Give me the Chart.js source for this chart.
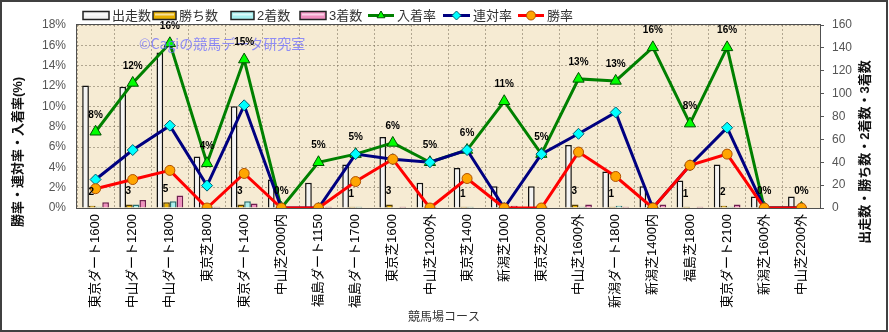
<!DOCTYPE html>
<html>
<head>
<meta charset="utf-8">
<script src="https://cdn.jsdelivr.net/npm/chart.js@4/dist/chart.umd.min.js"></script>
<style>
html, body { margin: 0; padding: 0; background: #fff; }
canvas { display: block; }
</style>
</head>
<body>
<canvas id="chart" width="889" height="332"></canvas>
<script>
// data
const courses = ['東京ダート1600', '中山ダート1200', '中山ダート1800', '東京芝1800', '東京ダート1400',
  '中山芝2000内', '福島ダート1150', '福島ダート1700', '東京芝1600', '中山芝1200外',
  '東京芝1400', '新潟芝1000', '東京芝2000', '中山芝1600外', '新潟ダート1800',
  '新潟芝1400内', '福島芝1800', '東京ダート2100', '新潟芝1600外', '中山芝2200外'];
const starts  = [107, 106, 136, 45, 89, 25, 22, 38, 62, 22, 35, 19, 19, 55, 32, 19, 24, 38, 10, 10];
const wins    = [2, 3, 5, 0, 3, 0, 0, 1, 3, 0, 1, 0, 0, 3, 1, 0, 1, 2, 0, 0];
const seconds = [1, 3, 6, 1, 6, 0, 0, 1, 0, 1, 1, 0, 1, 1, 2, 0, 0, 1, 0, 0];
const thirds  = [5, 7, 11, 1, 4, 0, 1, 0, 1, 0, 0, 2, 0, 3, 1, 3, 1, 3, 0, 0];
const winRate    = [1.9, 2.8, 3.7, 0, 3.4, 0, 0, 2.6, 4.8, 0, 2.9, 0, 0, 5.5, 3.1, 0, 4.2, 5.3, 0, 0];
const rentaiRate = [2.8, 5.7, 8.1, 2.2, 10.1, 0, 0, 5.3, 4.8, 4.5, 5.7, 0, 5.3, 7.3, 9.4, 0, 4.2, 7.9, 0, 0];
const placeRate  = [7.5, 12.3, 16.2, 4.4, 14.6, 0, 4.5, 5.3, 6.4, 4.5, 5.7, 10.5, 5.3, 12.7, 12.5, 15.8, 8.3, 15.8, 0, 0];
const rateTicks  = ['0%', '2%', '4%', '6%', '8%', '10%', '12%', '14%', '16%', '18%'];
const countTicks = ['0', '20', '40', '60', '80', '100', '120', '140', '160'];

const FONT = "'Liberation Sans', 'Noto Sans CJK JP', sans-serif";
const gridColor = 'rgba(120,110,90,0.55)';

// legend items (drawn by hand to keep the original layout)
const legendItems = [
  { text: '出走数', kind: 'bar', fill: '#f2f2f2', stroke: '#222', x: 83, w: 26 },
  { text: '勝ち数', kind: 'bar', fill: '#e8b000', stroke: '#222', x: 153, w: 23 },
  { text: '2着数', kind: 'bar', fill: '#a8f0f0', stroke: '#222', x: 231, w: 23 },
  { text: '3着数', kind: 'bar', fill: '#f090c0', stroke: '#222', x: 300, w: 26 },
  { text: '入着率', kind: 'line', line: '#008000', fill: '#00ff00', stroke: '#005000', style: 'triangle', x: 368, w: 26 },
  { text: '連対率', kind: 'line', line: '#000080', fill: '#00ffff', stroke: '#006070', style: 'rectRot', x: 443, w: 27 },
  { text: '勝率', kind: 'line', line: '#ff0000', fill: '#ffa500', stroke: '#b05000', style: 'circle', x: 518, w: 26 }
];

const decorPlugin = {
  id: 'decor',
  beforeDraw(chart) {
    const ctx = chart.ctx, a = chart.chartArea;
    ctx.save();
    ctx.fillStyle = '#fff';
    ctx.fillRect(0, 0, chart.width, chart.height);
    ctx.fillStyle = '#f6ebd3';
    ctx.fillRect(a.left, a.top, a.right - a.left, a.bottom - a.top);
    ctx.restore();
  },
  afterDatasetsDraw(chart) {
    const ctx = chart.ctx;
    ctx.save();
    // watermark
    ctx.font = "14px 'Noto Sans CJK JP', sans-serif";
    ctx.fillStyle = 'rgba(110,110,255,0.75)';
    ctx.textBaseline = 'middle';
    ctx.fillText('©Cagiの競馬データ研究室', 139, 44);

    // 入着率 labels
    ctx.font = 'bold 10px ' + FONT;
    ctx.fillStyle = '#000';
    ctx.textAlign = 'center';
    const placeMeta = chart.getDatasetMeta(4);
    placeMeta.data.forEach((pt, i) => {
      ctx.fillText(Math.round(placeRate[i]) + '%', pt.x, pt.y - 17);
    });
    // 勝ち数 labels
    const winMeta = chart.getDatasetMeta(1);
    winMeta.data.forEach((bar, i) => {
      if (wins[i] > 0) ctx.fillText(String(wins[i]), bar.x - 1, bar.y - 13);
    });
    ctx.restore();
  },
  afterDraw(chart) {
    const ctx = chart.ctx, a = chart.chartArea;
    ctx.save();
    // plot frame
    ctx.strokeStyle = '#505050';
    ctx.lineWidth = 1;
    ctx.strokeRect(a.left - 0.5, a.top - 0.5, a.right - a.left + 1, a.bottom - a.top + 1);
    // outer border
    ctx.strokeStyle = '#404040';
    ctx.lineWidth = 2;
    ctx.strokeRect(1, 1, chart.width - 3, chart.height - 2);

    // legend
    ctx.font = '13px ' + FONT;
    ctx.textBaseline = 'middle';
    ctx.textAlign = 'left';
    const ly = 15.5;
    legendItems.forEach(it => {
      if (it.kind === 'bar') {
        ctx.fillStyle = it.fill;
        ctx.fillRect(it.x, ly - 4, it.w, 8);
        ctx.fillStyle = 'rgba(255,255,255,0.6)';
        ctx.fillRect(it.x + 2, ly - 2, it.w - 4, 2);
        ctx.strokeStyle = it.stroke;
        ctx.lineWidth = 1.5;
        ctx.strokeRect(it.x, ly - 4, it.w, 8);
      } else {
        ctx.strokeStyle = it.line;
        ctx.lineWidth = 3;
        ctx.beginPath();
        ctx.moveTo(it.x, ly);
        ctx.lineTo(it.x + it.w, ly);
        ctx.stroke();
        ctx.fillStyle = it.fill;
        ctx.strokeStyle = it.stroke;
        ctx.lineWidth = 1;
        Chart.helpers.drawPoint(ctx, { pointStyle: it.style, radius: 4.5, borderWidth: 1 }, it.x + it.w / 2, ly);
      }
      ctx.fillStyle = '#333';
      ctx.fillText(it.text, it.x + it.w + 3, ly + 0.5);
    });

    // axis titles
    ctx.fillStyle = '#111';
    ctx.font = 'bold 13px ' + FONT;
    ctx.textAlign = 'center';
    ctx.save();
    ctx.translate(18, 152);
    ctx.rotate(-Math.PI / 2);
    ctx.fillText('勝率・連対率・入着率(%)', 0, 0);
    ctx.restore();
    ctx.save();
    ctx.translate(865, 152);
    ctx.rotate(-Math.PI / 2);
    ctx.fillText('出走数・勝ち数・2着数・3着数', 0, 0);
    ctx.restore();
    ctx.font = '12px ' + FONT;
    ctx.fillStyle = '#333';
    ctx.fillText('競馬場コース', 444, 318);
    ctx.restore();
  }
};

const barCommon = { yAxisID: 'y1', borderWidth: 1.5, categoryPercentage: 0.72, barPercentage: 1.0, order: 10 };

new Chart(document.getElementById('chart'), {
  type: 'bar',
  data: {
    labels: courses,
    datasets: [
      Object.assign({ label: '出走数', data: starts, backgroundColor: '#f4f4f4', borderColor: '#111' }, barCommon),
      Object.assign({ label: '勝ち数', data: wins, backgroundColor: '#e8b000', borderColor: '#5a4000' }, barCommon),
      Object.assign({ label: '2着数', data: seconds, backgroundColor: '#a8f0f0', borderColor: '#2a7070' }, barCommon),
      Object.assign({ label: '3着数', data: thirds, backgroundColor: '#f090c0', borderColor: '#702050' }, barCommon),
      {
        type: 'line', label: '入着率', data: placeRate, yAxisID: 'y', order: 3,
        borderColor: '#008000', borderWidth: 3, tension: 0,
        pointStyle: 'triangle', pointRadius: 6.5, pointBackgroundColor: '#00ff00',
        pointBorderColor: '#005000', pointBorderWidth: 1
      },
      {
        type: 'line', label: '連対率', data: rentaiRate, yAxisID: 'y', order: 2,
        borderColor: '#000080', borderWidth: 3, tension: 0,
        pointStyle: 'rectRot', pointRadius: 5.5, pointBackgroundColor: '#00ffff',
        pointBorderColor: '#006070', pointBorderWidth: 1
      },
      {
        type: 'line', label: '勝率', data: winRate, yAxisID: 'y', order: 1,
        borderColor: '#ff0000', borderWidth: 3, tension: 0,
        pointStyle: 'circle', pointRadius: 5, pointBackgroundColor: '#ffa500',
        pointBorderColor: '#b05000', pointBorderWidth: 1
      }
    ]
  },
  options: {
    responsive: false,
    animation: false,
    layout: { padding: { top: 25, left: 0, right: 0, bottom: 0 } },
    plugins: { legend: { display: false }, tooltip: { enabled: false } },
    scales: {
      x: {
        offset: true,
        grid: { color: gridColor, drawTicks: false, offset: true },
        border: { display: false, dash: [2, 2] },
        ticks: {
          autoSkip: false, minRotation: 90, maxRotation: 90, padding: 6,
          color: '#000', font: { size: 13, family: FONT }
        },
        afterFit: s => { s.height = 124; }
      },
      y: {
        position: 'left', min: 0, max: 18,
        grid: { color: gridColor, drawTicks: false },
        border: { display: false, dash: [2, 2] },
        ticks: {
          stepSize: 2, padding: 11, color: '#555',
          font: { size: 12, family: FONT },
          callback: (v, i) => rateTicks[i]
        },
        afterFit: s => { s.width = 77; }
      },
      y1: {
        position: 'right', min: 0, max: 160,
        grid: { drawOnChartArea: false, drawTicks: true, tickLength: 4, color: '#555' },
        border: { display: false },
        ticks: {
          stepSize: 20, padding: 8, color: '#555',
          font: { size: 12, family: FONT },
          callback: (v, i) => countTicks[i]
        },
        afterFit: s => { s.width = 69; }
      }
    }
  },
  plugins: [decorPlugin]
});
</script>
</body>
</html>
